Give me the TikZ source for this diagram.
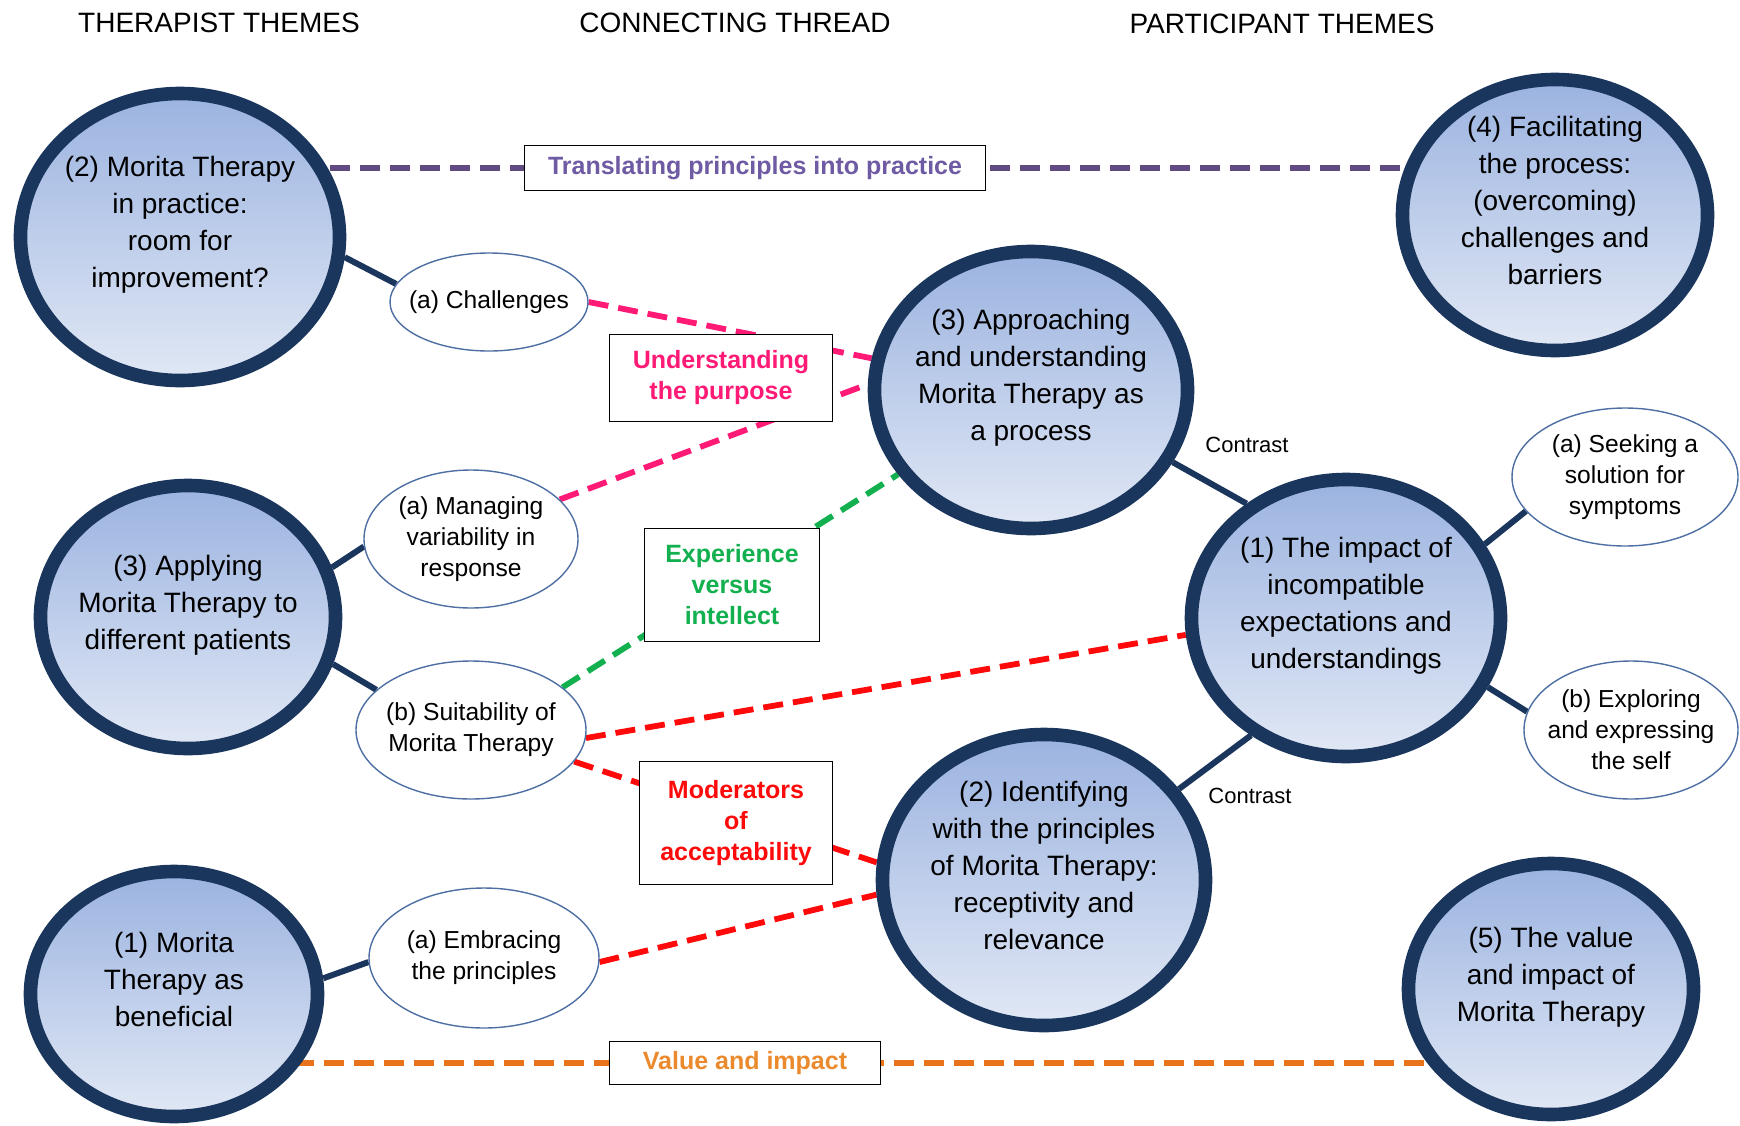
\documentclass[tikz,border=0pt]{standalone}
\usepackage{fontspec}
\setmainfont{Liberation Sans}
\usetikzlibrary{shapes.geometric, backgrounds}

\definecolor{navy}{HTML}{1B365D}
\definecolor{shadetop}{HTML}{9BB3E0}
\definecolor{shadebot}{HTML}{E1E8F5}
\definecolor{rimblue}{HTML}{4E6FA3}
\definecolor{threadpurple}{HTML}{5F4B82}
\definecolor{textpurple}{HTML}{6E5BA3}
\definecolor{threadpink}{HTML}{FF1A75}
\definecolor{threadgreen}{HTML}{12B04E}
\definecolor{threadred}{HTML}{FF0A0A}
\definecolor{threadorange}{HTML}{E8731A}
\definecolor{textorange}{HTML}{EB8A2C}

\tikzset{
  theme/.style 2 args={ellipse, draw=navy, line width=6.8pt, top color=shadetop, bottom color=shadebot,
    minimum width=#1, minimum height=#2, inner sep=-12pt, align=center,
    font=\fontsize{14}{18.5}\selectfont, execute at end node={\rule[-15pt]{0pt}{0pt}}},
  subtheme/.style 2 args={ellipse, draw=rimblue, line width=0.7pt, fill=white,
    minimum width=#1, minimum height=#2, inner sep=-6pt, align=center,
    font=\fontsize{12.3}{15.5}\selectfont},
  thread/.style={draw=black, line width=0.9pt, fill=white, align=center, inner sep=0pt,
    font=\bfseries\fontsize{12.5}{15.5}\selectfont},
  header/.style={font=\fontsize{14}{17}\selectfont},
  link/.style={draw=navy, line width=3pt},
  dashline/.style={line width=2.9pt, dash pattern=on 10pt off 5pt},
}

\begin{document}
\begin{tikzpicture}[x=0.5pt, y=-0.5pt]
  \useasboundingbox (0,0) rectangle (1740,1125);

  % headings
  \node[header] (hd1) at (219,23) {THERAPIST THEMES};
  \node[header] (hd2) at (735,23) {CONNECTING THREAD};
  \node[header] (hd3) at (1282,24) {PARTICIPANT THEMES};

  % therapist themes
  \node[theme={159.5pt}{143.5pt}] (t2) at (180,237) {(2) Morita Therapy\\in practice:\\room for\\improvement?};
  \node[theme={147.5pt}{131.5pt}] (t3) at (188,617) {(3) Applying\\Morita Therapy to\\different patients};
  \node[theme={143.5pt}{122.5pt}] (t1) at (174,994) {(1) Morita\\Therapy as\\beneficial};
  \node[subtheme={99pt}{49pt}] (ch) at (489,302) {(a) Challenges};
  \node[subtheme={107pt}{69pt}] (mv) at (471,539) {(a) Managing\\variability in\\response};
  \node[subtheme={115pt}{69pt}] (su) at (471,730) {(b) Suitability of\\Morita Therapy};
  \node[subtheme={115pt}{70pt}] (em) at (484,958) {(a) Embracing\\the principles};

  % participant themes
  \node[theme={156.5pt}{138.5pt}] (c3) at (1031,390) {(3) Approaching\\and understanding\\Morita Therapy as\\a process};
  \node[theme={161.5pt}{145.5pt}] (c2) at (1044,880) {(2) Identifying\\with the principles\\of Morita Therapy:\\receptivity and\\relevance};
  \node[theme={152.5pt}{135.5pt}] (p4) at (1555,215) {(4) Facilitating\\the process:\\(overcoming)\\challenges and\\barriers};
  \node[theme={154.5pt}{138.5pt}] (p1) at (1346,618) {(1) The impact of\\incompatible\\expectations and\\understandings};
  \node[theme={142.5pt}{125.5pt}] (p5) at (1551,989) {(5) The value\\and impact of\\Morita Therapy};
  \node[subtheme={113pt}{69pt}] (sk) at (1625,477) {(a) Seeking a\\solution for\\symptoms};
  \node[subtheme={107pt}{69pt}] (ex) at (1631,730) {(b) Exploring\\and expressing\\the self};

  \node[font=\fontsize{11}{13}\selectfont] (cn1) at (1247,445) {Contrast};
  \node[font=\fontsize{11}{13}\selectfont] (cn2) at (1250,796) {Contrast};

  % connecting threads
  \node[thread, text=textpurple, minimum width=230.5pt, minimum height=22.5pt] (tr) at (755,168) {Translating principles into practice};
  \node[thread, text=threadpink, minimum width=111.5pt, minimum height=43.5pt] (up) at (721,378) {Understanding\\the purpose};
  \node[thread, text=threadgreen, minimum width=87.5pt, minimum height=56.5pt] (ev) at (732,585) {Experience\\versus\\intellect};
  \node[thread, text=threadred, minimum width=96.5pt, minimum height=61.5pt] (ma) at (736,823) {Moderators\\of\\acceptability};
  \node[thread, text=textorange, minimum width=135.5pt, minimum height=21.5pt] (vi) at (745,1063) {Value and impact};

  \begin{scope}[on background layer]
    \draw[link] (t2.-7) -- (ch.169);
    \draw[link] (t3.19) -- (mv.184);
    \draw[link] (t3.-18) -- (su.157);
    \draw[link] (t1.6) -- (em.182);
    \draw[link] (c3.-27) -- (p1.131);
    \draw[link] (c2.34) -- (p1.231);
    \draw[link] (p1.28) -- (sk.199);
    \draw[link] (p1.-26) -- (ex.170);
    \draw[dashline, threadpurple] (tr -| t2) -- (tr -| p4);
    \draw[dashline, threadorange] (vi -| t1) -- (vi -| p5);
    \draw[dashline, threadpink] (ch.east) -- (c3);
    \draw[dashline, threadpink] (mv.24) -- (c3.178);
    \draw[dashline, threadgreen] (su.25) -- (c3);
    \draw[dashline, threadred] (su.-4) -- (p1.186);
    \draw[dashline, threadred] (su.-17) -- (c2.174);
    \draw[dashline, threadred] (em.-2) -- (c2.185);
  \end{scope}
\end{tikzpicture}
\end{document}
